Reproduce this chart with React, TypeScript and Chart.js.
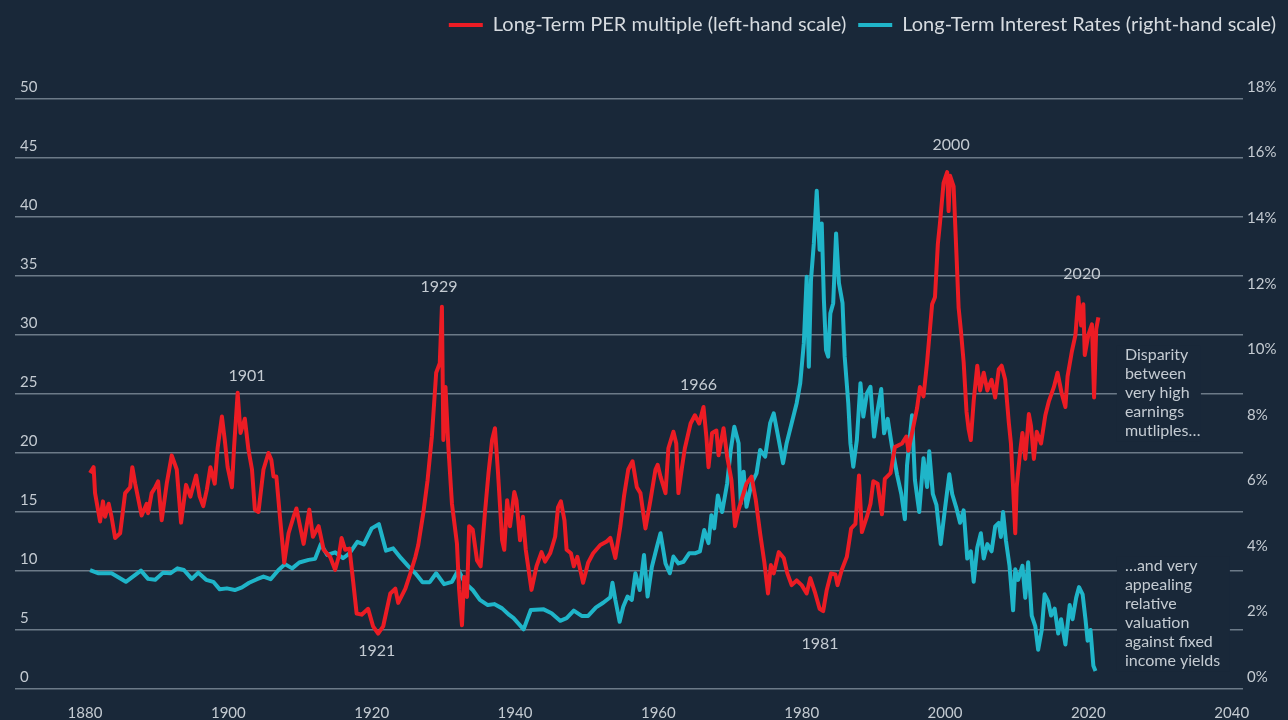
import React, { useEffect, useRef } from "react";
import { Chart, registerables } from "chart.js";

Chart.register(...registerables);

// ---------- data ----------
const perYears = [
  1880.7, 1881.2, 1881.4, 1882.1, 1882.5, 1882.8, 1883.3, 1883.7, 1884.2, 1884.9,
  1885.6, 1886.3, 1886.6, 1887.0, 1887.9, 1888.6, 1888.8, 1889.3, 1889.8, 1890.2,
  1890.7, 1891.4, 1892.1, 1892.8, 1893.4, 1894.1, 1894.7, 1895.5, 1896.0, 1896.5,
  1897.0, 1897.5, 1898.1, 1898.5, 1899.1, 1899.5, 1899.9, 1900.5, 1900.8, 1901.3,
  1901.7, 1902.3, 1902.8, 1903.3, 1903.7, 1904.2, 1904.9, 1905.6, 1906.0, 1906.3,
  1906.7, 1907.2, 1907.8, 1908.4, 1909.1, 1909.5, 1910.5, 1911.3, 1911.8, 1912.6,
  1913.3, 1914.2, 1914.9, 1915.4, 1915.8, 1916.3, 1916.9, 1917.4, 1917.9, 1918.6,
  1919.5, 1920.2, 1920.9, 1921.6, 1922.6, 1923.3, 1923.7, 1924.7, 1925.4, 1926.1,
  1926.5, 1927.2, 1927.8, 1928.4, 1929.0, 1929.5, 1929.8, 1930.0, 1930.3, 1930.7,
  1931.2, 1931.9, 1932.2, 1932.6, 1932.9, 1933.3, 1933.6, 1934.1, 1934.7, 1935.2,
  1935.8, 1936.3, 1936.8, 1937.2, 1937.6, 1938.2, 1938.5, 1938.9, 1939.3, 1939.9,
  1940.2, 1940.7, 1941.1, 1941.5, 1942.3, 1943.0, 1943.7, 1944.2, 1944.9, 1945.6,
  1946.0, 1946.4, 1946.9, 1947.2, 1947.8, 1948.2, 1948.7, 1949.5, 1950.2, 1950.9,
  1951.9, 1952.8, 1953.3, 1954.0, 1954.7, 1955.2, 1955.8, 1956.4, 1957.0, 1957.5,
  1958.2, 1958.9, 1959.6, 1959.9, 1960.3, 1961.0, 1961.4, 1962.1, 1962.5, 1962.8,
  1963.3, 1963.7, 1964.5, 1965.1, 1965.7, 1966.3, 1966.7, 1967.0, 1967.5, 1968.1,
  1968.4, 1969.1, 1969.6, 1970.2, 1970.7, 1971.2, 1971.6, 1972.3, 1973.0, 1973.6,
  1974.2, 1974.8, 1975.3, 1975.7, 1976.1, 1976.8, 1977.5, 1978.0, 1978.6, 1979.3,
  1980.0, 1980.7, 1981.2, 1981.9, 1982.5, 1983.0, 1983.5, 1984.1, 1984.7, 1985.0,
  1985.6, 1986.3, 1986.9, 1987.5, 1988.0, 1988.4, 1989.1, 1989.6, 1990.0, 1990.6,
  1991.2, 1991.6, 1992.4, 1993.0, 1994.0, 1994.6, 1994.9, 1995.6, 1996.1, 1996.5,
  1997.0, 1997.5, 1997.8, 1998.2, 1998.6, 1999.0, 1999.3, 1999.8, 2000.3, 2000.5,
  2000.7, 2001.2, 2001.6, 2001.9, 2002.2, 2002.6, 2003.0, 2003.3, 2003.6, 2004.0,
  2004.5, 2004.9, 2005.4, 2005.9, 2006.5, 2007.0, 2007.5, 2007.9, 2008.4, 2008.9,
  2009.2, 2009.5, 2009.8, 2010.0, 2010.5, 2010.8, 2011.2, 2011.7, 2012.0, 2012.4,
  2012.8, 2013.4, 2014.0, 2014.5, 2015.2, 2015.7, 2016.3, 2016.8, 2017.1, 2017.7,
  2018.2, 2018.6, 2019.0, 2019.3, 2019.5, 2020.0, 2020.5, 2020.8, 2021.1, 2021.4,
];

const perValues = [
  18.3, 18.8, 16.6, 14.2, 15.9, 14.6, 15.7, 14.6, 12.8, 13.2,
  16.6, 17.1, 18.8, 17.4, 14.7, 15.7, 14.9, 16.6, 17.1, 17.6,
  14.3, 17.4, 19.8, 18.6, 14.1, 17.3, 16.3, 18.1, 16.3, 15.5,
  16.9, 18.8, 17.4, 20.4, 23.1, 21.1, 18.8, 17.1, 20.5, 25.1,
  21.7, 22.9, 20.3, 18.6, 15.2, 15.0, 18.6, 20.0, 19.4, 18.0,
  18.0, 14.6, 10.7, 13.2, 14.6, 15.3, 12.3, 15.2, 12.9, 13.8,
  11.8, 11.2, 10.1, 11.2, 12.8, 11.8, 11.9, 9.2, 6.4, 6.3,
  6.8, 5.3, 4.7, 5.3, 8.1, 8.5, 7.3, 8.5, 9.8, 11.2,
  12.2, 14.9, 17.7, 21.4, 26.8, 27.6, 32.4, 21.1, 25.6, 20.5,
  15.7, 12.3, 8.4, 5.4, 9.5, 7.8, 13.8, 13.5, 10.9, 10.4,
  14.9, 18.3, 21.1, 22.1, 18.6, 12.6, 11.8, 16.0, 13.8, 16.7,
  16.0, 12.6, 14.6, 11.8, 8.4, 10.4, 11.6, 10.8, 11.5, 12.9,
  15.4, 15.9, 14.3, 11.8, 11.5, 10.4, 11.2, 9.0, 10.7, 11.5,
  12.2, 12.5, 12.8, 11.1, 13.8, 16.3, 18.6, 19.3, 17.1, 16.6,
  13.6, 16.0, 18.6, 19.0, 18.0, 16.6, 20.4, 21.8, 20.8, 16.6,
  18.8, 20.4, 22.5, 23.2, 22.5, 23.9, 21.4, 18.8, 21.7, 21.9,
  19.8, 22.1, 19.7, 17.7, 13.8, 15.2, 16.0, 17.4, 18.0, 16.0,
  13.2, 10.7, 8.1, 10.5, 9.8, 11.6, 11.1, 9.8, 8.8, 9.2,
  8.8, 8.1, 9.4, 8.1, 6.8, 6.6, 8.4, 9.8, 9.7, 8.8,
  10.1, 11.2, 13.6, 14.0, 18.1, 13.3, 14.6, 15.7, 17.6, 17.4,
  14.8, 17.8, 18.3, 20.5, 20.8, 21.4, 20.2, 22.3, 23.8, 25.6,
  24.8, 27.7, 29.8, 32.6, 33.2, 37.7, 39.5, 42.9, 43.8, 40.5,
  43.5, 42.6, 36.8, 32.3, 30.5, 27.7, 23.5, 22.0, 21.1, 24.4,
  27.4, 25.3, 26.8, 25.3, 26.2, 24.7, 27.1, 27.4, 26.2, 22.6,
  20.8, 17.1, 13.2, 17.1, 20.2, 21.7, 19.5, 23.3, 22.3, 19.5,
  21.8, 20.8, 23.2, 24.4, 25.6, 26.8, 25.0, 23.9, 26.5, 28.6,
  30.0, 33.2, 30.8, 32.6, 28.3, 30.0, 30.9, 24.7, 30.5, 31.5,
];

const rateYears = [
  1880.7, 1881.9, 1883.7, 1885.7, 1887.8, 1888.8, 1889.8, 1890.9, 1891.9, 1892.9,
  1893.8, 1894.9, 1895.8, 1896.9, 1897.9, 1898.8, 1899.8, 1900.9, 1901.9, 1902.9,
  1904.0, 1904.9, 1905.9, 1907.0, 1907.9, 1908.9, 1909.9, 1911.2, 1912.1, 1912.9,
  1913.8, 1914.9, 1916.0, 1916.9, 1918.0, 1918.9, 1920.0, 1921.0, 1922.0, 1923.0,
  1924.1, 1925.1, 1926.1, 1927.1, 1928.1, 1929.0, 1930.1, 1931.2, 1932.1, 1933.0,
  1934.1, 1935.1, 1936.2, 1937.1, 1938.2, 1939.2, 1939.8, 1941.2, 1942.2, 1944.0,
  1945.1, 1946.3, 1947.2, 1948.2, 1949.3, 1950.2, 1951.3, 1952.3, 1953.3, 1953.6,
  1954.0, 1954.6, 1955.1, 1955.7, 1956.3, 1956.8, 1957.4, 1958.0, 1958.5, 1959.1,
  1959.8, 1960.3, 1961.0, 1961.6, 1962.1, 1962.8, 1963.5, 1964.3, 1965.1, 1965.8,
  1966.4, 1967.0, 1967.4, 1967.8, 1968.3, 1968.9, 1969.6, 1970.1, 1970.6, 1971.2,
  1971.5, 1971.9, 1972.3, 1973.0, 1973.7, 1974.2, 1974.9, 1975.6, 1976.1, 1976.8,
  1977.4, 1977.9, 1978.6, 1979.3, 1979.8, 1980.3, 1980.7, 1981.0, 1981.3, 1981.7,
  1982.1, 1982.5, 1982.8, 1983.1, 1983.4, 1983.7, 1984.0, 1984.4, 1984.8, 1985.2,
  1985.7, 1986.0, 1986.5, 1986.8, 1987.2, 1987.7, 1988.2, 1988.6, 1989.1, 1989.6,
  1990.1, 1990.6, 1991.1, 1991.5, 1992.0, 1992.6, 1993.3, 1993.9, 1994.4, 1994.7,
  1995.4, 1995.8, 1996.4, 1997.0, 1997.5, 1997.8, 1998.3, 1998.8, 1999.4, 2000.0,
  2000.6, 2001.0, 2001.6, 2002.1, 2002.6, 2003.1, 2003.6, 2004.0, 2004.5, 2005.0,
  2005.4, 2005.9, 2006.5, 2007.0, 2007.5, 2007.8, 2008.1, 2008.5, 2009.0, 2009.5,
  2009.8, 2010.2, 2010.8, 2011.2, 2011.6, 2012.1, 2012.6, 2013.0, 2013.5, 2013.9,
  2014.4, 2014.8, 2015.3, 2015.8, 2016.2, 2016.8, 2017.4, 2017.8, 2018.3, 2018.7,
  2019.2, 2019.6, 2019.9, 2020.3, 2020.7, 2021.0,
];

const rateValues = [
  3.63, 3.53, 3.53, 3.27, 3.61, 3.36, 3.33, 3.55, 3.53, 3.68,
  3.63, 3.36, 3.55, 3.33, 3.27, 3.04, 3.07, 3.02, 3.10, 3.24,
  3.35, 3.43, 3.35, 3.63, 3.81, 3.68, 3.86, 3.94, 3.97, 4.42,
  4.09, 4.17, 3.99, 4.14, 4.49, 4.41, 4.90, 5.03, 4.22, 4.29,
  3.99, 3.75, 3.53, 3.26, 3.26, 3.53, 3.20, 3.27, 3.63, 3.24,
  3.02, 2.72, 2.56, 2.59, 2.46, 2.26, 2.16, 1.82, 2.41, 2.43,
  2.31, 2.08, 2.16, 2.39, 2.23, 2.23, 2.49, 2.63, 2.80, 3.24,
  2.72, 2.05, 2.51, 2.82, 2.72, 3.53, 3.02, 4.09, 2.82, 3.73,
  4.34, 4.75, 3.83, 3.53, 4.04, 3.83, 3.88, 4.14, 4.14, 4.20,
  4.85, 4.45, 5.30, 4.90, 5.90, 5.40, 6.27, 7.29, 8.00, 7.50,
  5.66, 6.63, 5.56, 6.27, 6.58, 7.29, 7.09, 8.11, 8.41, 7.60,
  6.89, 7.50, 8.11, 8.72, 9.33, 10.55, 12.58, 9.83, 12.48, 13.60,
  15.20, 13.40, 14.20, 11.87, 10.34, 10.14, 11.46, 11.77, 13.90, 12.38,
  11.77, 10.14, 8.72, 7.50, 6.78, 7.60, 9.33, 8.31, 9.02, 9.22,
  7.70, 8.51, 9.15, 7.80, 8.24, 7.40, 6.55, 5.95, 5.18, 6.82,
  8.35, 6.38, 5.40, 7.04, 6.16, 7.25, 5.95, 5.62, 4.42, 5.51,
  6.55, 5.95, 5.51, 5.07, 5.45, 3.98, 4.20, 3.27, 4.31, 4.75,
  3.98, 4.42, 4.20, 4.96, 5.07, 4.64, 5.40, 4.53, 3.76, 2.40,
  3.65, 3.33, 3.76, 2.78, 3.87, 2.24, 1.91, 1.20, 1.80, 2.89,
  2.67, 2.24, 2.45, 1.69, 2.13, 1.36, 2.56, 2.13, 2.78, 3.11,
  2.89, 2.13, 1.47, 1.80, 0.71, 0.55,
];

const xTickYears = [1880, 1900, 1920, 1940, 1960, 1980, 2000, 2020, 2040];

const eventLabels = ["1901", "1929", "1921", "1966", "1981", "2000", "2020"];
const eventYears = [1902.6, 1929.4, 1920.7, 1965.6, 1982.55, 2000.85, 2019.1];
const eventValues = [26.5, 34.1, 3.25, 25.8, 3.8, 46.15, 35.2];

const noteTexts = [
  ["Disparity", "between", "very high", "earnings", "mutliples…"],
  ["…and very", "appealing", "relative", "valuation", "against fixed", "income yields"],
];
const noteTopValues = [28.3, 10.42];
const noteYear = 2025.1;

const perLabel = "Long-Term PER multiple (left-hand scale)";
const rateLabel = "Long-Term Interest Rates (right-hand scale)";

// ---------- styles ----------
const BG = "#192839";
const RED = "#ec1c24";
const CYAN = "#1fb5c9";
const GRID = "#6c7a88";
const TEXT = "#c4cbd2";
const FONT = "Lato";
const noteBoxWidths = [84, 113];

export default function App() {
  const canvasRef = useRef<HTMLCanvasElement | null>(null);

  useEffect(() => {
    const canvas = canvasRef.current;
    if (!canvas) return;

    const bgPlugin = {
      id: "bg",
      beforeDraw(chart: any) {
        const { ctx, width, height } = chart;
        ctx.save();
        ctx.fillStyle = BG;
        ctx.fillRect(0, 0, width, height);
        ctx.restore();
      },
    };

    const annotationPlugin = {
      id: "annots",
      beforeDatasetsDraw(chart: any) {
        const { ctx } = chart;
        const x = chart.scales.x;
        const y = chart.scales.y;
        ctx.save();
        ctx.font = `16px ${FONT}`;
        ctx.textAlign = "left";
        ctx.textBaseline = "middle";
        noteTexts.forEach((lines, b) => {
          const left = x.getPixelForValue(noteYear);
          const top = y.getPixelForValue(noteTopValues[b]);
          ctx.fillStyle = BG;
          ctx.fillRect(left - 8, top - 10, noteBoxWidths[b], lines.length * 19 + 1);
          ctx.fillStyle = TEXT;
          lines.forEach((line, i) => ctx.fillText(line, left, top + i * 19));
        });
        ctx.restore();
      },
      afterDatasetsDraw(chart: any) {
        const { ctx } = chart;
        const x = chart.scales.x;
        const y = chart.scales.y;
        ctx.save();
        ctx.font = `16px ${FONT}`;
        ctx.fillStyle = TEXT;
        ctx.textAlign = "center";
        ctx.textBaseline = "middle";
        eventLabels.forEach((t, i) => {
          ctx.fillText(t, x.getPixelForValue(eventYears[i]), y.getPixelForValue(eventValues[i]));
        });
        ctx.restore();
      },
    };

    const chart = new Chart(canvas, {
      type: "line",
      data: {
        datasets: [
          {
            label: perLabel,
            data: perYears.map((yr, i) => ({ x: yr, y: perValues[i] })),
            borderColor: RED,
            backgroundColor: RED,
            borderWidth: 4,
            pointRadius: 0,
            tension: 0,
            borderJoinStyle: "round",
            xAxisID: "x",
            yAxisID: "y",
          },
          {
            label: rateLabel,
            data: rateYears.map((yr, i) => ({ x: yr, y: rateValues[i] })),
            borderColor: CYAN,
            backgroundColor: CYAN,
            borderWidth: 4,
            pointRadius: 0,
            tension: 0,
            borderJoinStyle: "round",
            xAxisID: "x",
            yAxisID: "y1",
          },
        ],
      },
      options: {
        responsive: false,
        animation: false,
        devicePixelRatio: 1,
        events: [],
        layout: { padding: { left: 15, right: 0, top: 3, bottom: 0 } },
        plugins: {
          tooltip: { enabled: false },
          legend: {
            position: "top",
            align: "end",
            labels: {
              boxWidth: 34,
              boxHeight: 4,
              padding: 12,
              color: "#d6dbe0",
              font: { family: FONT, size: 20 },
              generateLabels: (c: any) =>
                Chart.defaults.plugins.legend.labels
                  .generateLabels(c)
                  .map((l: any) => ({ ...l, fillStyle: l.strokeStyle, lineWidth: 0 })),
            },
          },
        },
        scales: {
          x: {
            type: "linear",
            position: "bottom",
            min: 1870.23,
            max: 2041.58,
            afterBuildTicks: (s: any) => {
              s.ticks = xTickYears.map((v) => ({ value: v }));
            },
            afterFit: (s: any) => {
              s.height = 31;
            },
            grid: { display: false, drawTicks: false },
            border: { display: false },
            ticks: {
              padding: 15,
              autoSkip: false,
              maxRotation: 0,
              color: TEXT,
              font: { family: FONT, size: 15 },
              callback: (v: any) => String(v),
            },
          },
          spacer: {
            type: "linear",
            position: "top",
            display: true,
            afterFit: (s: any) => {
              s.height = 54;
            },
            grid: { display: false, drawTicks: false },
            border: { display: false },
            ticks: { display: false },
          },
          y: {
            type: "linear",
            position: "left",
            min: 0,
            max: 50,
            afterFit: (s: any) => {
              s.width = 0;
            },
            grid: { color: GRID, lineWidth: 1.5, drawTicks: false },
            border: { display: false },
            ticks: {
              stepSize: 5,
              mirror: true,
              padding: 5,
              labelOffset: -12,
              color: TEXT,
              font: { family: FONT, size: 15 },
            },
          },
          y1: {
            type: "linear",
            position: "right",
            min: 0,
            max: 18,
            afterFit: (s: any) => {
              s.width = 45;
            },
            grid: { display: false, drawTicks: false },
            border: { display: false },
            ticks: {
              stepSize: 2,
              padding: 4,
              labelOffset: -12,
              color: TEXT,
              font: { family: FONT, size: 15 },
              callback: (v: any) => `${v}%`,
            },
          },
        },
      },
      plugins: [bgPlugin, annotationPlugin],
    } as any);

    return () => chart.destroy();
  }, []);

  return (
    <div style={{ position: "fixed", left: 0, top: 0, width: 1288, height: 720, background: BG }}>
      <canvas ref={canvasRef} width={1288} height={720} style={{ display: "block" }} />
    </div>
  );
}
